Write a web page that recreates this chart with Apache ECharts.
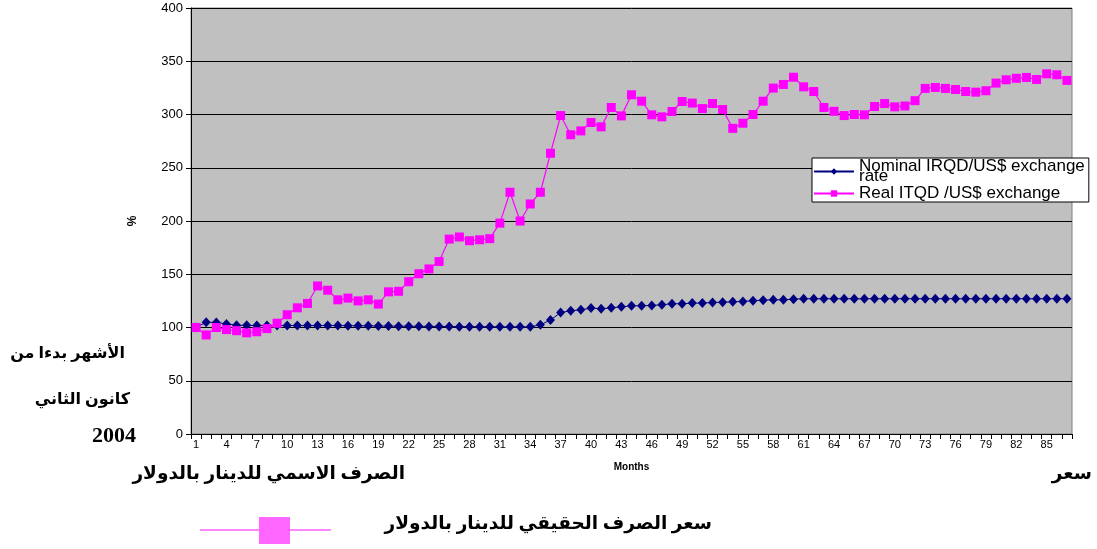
<!DOCTYPE html>
<html>
<head>
<meta charset="utf-8">
<script src="https://cdn.jsdelivr.net/npm/echarts@6/dist/echarts.min.js"></script>
<style>
  html, body { margin: 0; padding: 0; background: #fff; }
  #chart { width: 1097px; height: 549px; }
</style>
</head>
<body>
<div id="chart"></div>
<script>
// months 1..87 starting January 2004
var months = [];
for (var m = 1; m <= 87; m++) months.push(String(m));

// nominal IRQD/US$ exchange rate (index, %)
var nominalRate = [
  100, 105, 104.7, 103.4, 102.2, 102, 101.8, 101.8, 101.8, 101.8,
  101.8, 101.8, 101.8, 101.8, 101.8, 101.7, 101.6, 101.6, 101.3, 101.3,
  101.2, 101.2, 101.1, 101, 101, 100.9, 100.8, 100.8, 100.7, 100.7,
  100.6, 100.6, 100.6, 100.6, 102.5, 107, 114, 115.7, 116.6, 118.2,
  117.6, 118.5, 119.4, 120.4, 120.4, 120.7, 121.3, 122.3, 122.3, 122.9,
  122.9, 123.5, 123.8, 124.1, 124.5, 125.1, 125.7, 126, 126, 126.6,
  127, 127, 127, 127, 127, 127, 127, 127, 127, 127,
  127, 127, 127, 127, 127, 127, 127, 127, 127, 127,
  127, 127, 127, 127, 127, 127, 127
];

// real ITQD/US$ exchange rate (index, %)
var realRate = [
  100, 93, 100, 98, 97, 95, 96, 99, 104, 112,
  118.5, 122.6, 139, 135, 126, 127.6, 125, 126, 122, 133.5,
  134, 143, 150.5, 155, 162, 183, 185, 181.5, 182.4, 183.4,
  198, 227, 200, 216, 227, 263.6, 299, 281, 284.6, 292.5,
  288.4, 306.6, 298.7, 318.5, 312.5, 299.7, 297.8, 302.8, 312.2, 310.7,
  305.6, 310.3, 304.7, 287, 291.8, 300, 312.5, 324.8, 328.2, 335,
  326, 321.6, 306.6, 303, 299, 300, 299.7, 307.5, 310.3, 307.2,
  308, 313, 324.5, 325.4, 324.5, 323.5, 321.6, 321, 322.3, 329.5,
  332.6, 334, 334.8, 332.9, 338.2, 337.3, 332
];

var seriesNames = ['Nominal IRQD/US$ exchange rate', 'Real ITQD /US$ exchange'];

var arFont = '"Liberation Serif", "DejaVu Serif", "DejaVu Sans", serif';

var chart = echarts.init(document.getElementById('chart'), null, { renderer: 'canvas' });

var option = {
  animation: false,
  backgroundColor: '#ffffff',
  grid: {
    left: 191, top: 8, width: 881, height: 426,
    show: true, backgroundColor: '#c0c0c0', borderColor: '#808080', borderWidth: 1
  },
  legend: {
    orient: 'vertical',
    left: 812, top: 158,
    backgroundColor: '#ffffff',
    borderColor: '#000000', borderWidth: 1,
    padding: [0, 4, 0, 1],
    itemGap: 0,
    itemWidth: 40, itemHeight: 8,
    data: seriesNames,
    formatter: function (name) {
      return name === seriesNames[0] ? 'Nominal IRQD/US$ exchange\nrate' : name;
    },
    textStyle: { fontFamily: 'Liberation Sans, Arial, sans-serif', fontSize: 17, color: '#000', lineHeight: 10 }
  },
  xAxis: {
    type: 'category',
    data: months,
    boundaryGap: true,
    name: 'Months',
    nameLocation: 'middle',
    nameGap: 28,
    nameTextStyle: { fontFamily: 'Liberation Sans, Arial, sans-serif', fontSize: 10, fontWeight: 'bold', color: '#000' },
    axisLine: { lineStyle: { color: '#000', width: 1 } },
    axisTick: { show: true, interval: 0, length: 5, lineStyle: { color: '#000' } },
    axisLabel: { interval: 2, fontFamily: 'Liberation Sans, Arial, sans-serif', fontSize: 11, color: '#000', margin: 5 },
    splitLine: { show: false }
  },
  yAxis: {
    type: 'value',
    min: 0, max: 400, interval: 50,
    name: '%',
    nameLocation: 'middle',
    nameGap: 52,
    nameRotate: 90,
    nameTextStyle: { fontFamily: 'Liberation Sans, Arial, sans-serif', fontSize: 12, fontWeight: 'bold', color: '#000' },
    axisLine: { show: true, lineStyle: { color: '#000', width: 1 } },
    axisTick: { show: true, length: 5, lineStyle: { color: '#000' } },
    axisLabel: { fontFamily: 'Liberation Sans, Arial, sans-serif', fontSize: 13, color: '#000', margin: 8 },
    splitLine: { show: true, lineStyle: { color: '#000', width: 1 } }
  },
  series: [
    {
      name: seriesNames[0],
      type: 'line',
      data: nominalRate,
      symbol: 'diamond',
      symbolSize: [9, 10],
      showAllSymbol: true,
      itemStyle: { color: '#000080' },
      lineStyle: { color: '#000080', width: 1 },
      z: 2
    },
    {
      name: seriesNames[1],
      type: 'line',
      data: realRate,
      symbol: 'rect',
      symbolSize: 9,
      showAllSymbol: true,
      itemStyle: { color: '#ff00ff' },
      lineStyle: { color: '#ff00ff', width: 1.2 },
      z: 3
    }
  ],
  graphic: [
    { type: 'text', right: 1097 - 125, top: 346, style: { text: 'الأشهر بدءا من', font: 'bold 16px ' + arFont, fill: '#000' } },
    { type: 'text', right: 1097 - 130, top: 392, style: { text: 'كانون الثاني', font: 'bold 16px ' + arFont, fill: '#000' } },
    { type: 'text', right: 1097 - 136, top: 425, style: { text: '2004', font: 'bold 22px ' + arFont, fill: '#000' } },
    { type: 'text', right: 1097 - 405, top: 465, style: { text: 'الصرف الاسمي للدينار بالدولار', font: 'bold 18.5px ' + arFont, fill: '#000' } },
    { type: 'text', right: 1097 - 1092, top: 465, style: { text: 'سعر', font: 'bold 18.5px ' + arFont, fill: '#000' } },
    { type: 'text', right: 1097 - 712, top: 515, style: { text: 'سعر الصرف الحقيقي للدينار بالدولار', font: 'bold 18.5px ' + arFont, fill: '#000' } },
    { type: 'line', shape: { x1: 200, y1: 530, x2: 331, y2: 530 }, style: { stroke: '#ff88ff', lineWidth: 2 } },
    { type: 'rect', shape: { x: 259, y: 517, width: 31, height: 27 }, style: { fill: '#ff66ff' } }
  ]
};

chart.setOption(option);
</script>
</body>
</html>
